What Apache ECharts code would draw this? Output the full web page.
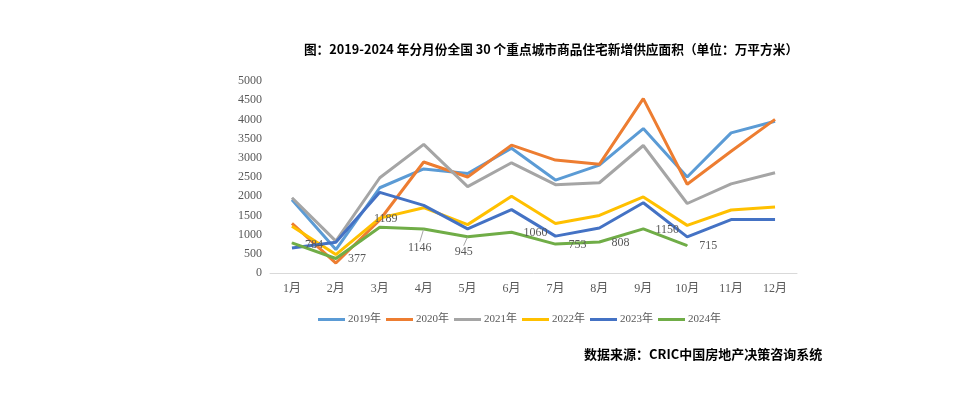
<!DOCTYPE html>
<html><head><meta charset="utf-8">
<script src="https://cdn.jsdelivr.net/npm/echarts@6/dist/echarts.min.js"></script>
<style>html,body{margin:0;padding:0;background:#fff}#c{width:960px;height:403px}</style>
</head><body><div id="c"></div>
<script>
const months = ['1月','2月','3月','4月','5月','6月','7月','8月','9月','10月','11月','12月'];
const yearNames = ['2019年','2020年','2021年','2022年','2023年','2024年'];
const v2019 = [1910, 610, 2220, 2710, 2590, 3250, 2420, 2810, 3760, 2500, 3650, 3950];
const v2020 = [1290, 260, 1380, 2890, 2500, 3330, 2940, 2830, 4540, 2310, 3170, 4000];
const v2021 = [1960, 830, 2480, 3350, 2250, 2870, 2300, 2350, 3320, 1810, 2320, 2610];
const v2022 = [1220, 480, 1430, 1700, 1260, 2000, 1290, 1500, 1980, 1240, 1640, 1720];
const v2023 = [650, 800, 2100, 1760, 1150, 1650, 960, 1170, 1830, 940, 1390, 1390];
const v2024 = [784, 377, 1189, 1146, 945, 1060, 753, 808, 1150, 715];
const yTicks = [0, 500, 1000, 1500, 2000, 2500, 3000, 3500, 4000, 4500, 5000];

const colors = ['#5B9BD5','#ED7D31','#A5A5A5','#FFC000','#4472C4','#70AD47'];
const labelOffsets = [[22,2],[21,0],[6,-8],[-4,19],[-4,15],[24,1],[22,1],[21,1],[24,1],[21,0]];
const serif = "'Liberation Serif', 'Noto Sans CJK SC', serif";

const allVals = [v2019, v2020, v2021, v2022, v2023, v2024];
const series = allVals.map((vals, i) => {
  const s = {
    name: yearNames[i], type: 'line', data: vals,
    symbol: 'circle', symbolSize: 1, showSymbol: i === 5,
    lineStyle: { width: 3, color: colors[i] },
    itemStyle: { color: colors[i] },
    emphasis: { disabled: true },
    z: 2 + i
  };
  if (i === 5) {
    s.label = { show: true, position: 'inside', color: '#595959', fontSize: 12, fontFamily: serif };
    s.labelLayout = p => ({ dx: labelOffsets[p.dataIndex][0], dy: labelOffsets[p.dataIndex][1] });
    s.labelLine = { show: false };
    s.data = vals.map((v, k) => (k === 3 || k === 4) ?
      { value: v, labelLine: { show: true, lineStyle: { color: '#A6A6A6', width: 1 } } } : v);
  }
  return s;
});

const chart = echarts.init(document.getElementById('c'), null, { renderer: 'canvas' });
chart.setOption({
  animation: false,
  backgroundColor: '#fff',
  title: [
    { text: '图：2019-2024 年分月份全国 30 个重点城市商品住宅新增供应面积（单位：万平方米）',
      left: 546, top: 38, textAlign: 'center',
      textStyle: { fontSize: 12.7, fontWeight: 'bold', color: '#000', fontFamily: "'Noto Sans CJK SC', sans-serif" } },
    { text: '数据来源：CRIC中国房地产决策咨询系统', left: 579, top: 343,
      textStyle: { fontSize: 13, fontWeight: 'bold', color: '#000', fontFamily: "'Noto Sans CJK SC', sans-serif" } }
  ],
  legend: {
    data: yearNames, left: 313, top: 309, itemWidth: 27, itemHeight: 3, itemGap: 5,
    icon: 'rect',
    textStyle: { fontSize: 11, color: '#595959', fontFamily: serif, padding: [0, 0, 0, -2] }
  },
  grid: { left: 270, right: 163, top: 81, bottom: 130 },
  xAxis: {
    type: 'category', data: months, boundaryGap: true,
    axisLine: { lineStyle: { color: '#D9D9D9' } }, axisTick: { show: false },
    axisLabel: { color: '#595959', fontSize: 12, fontFamily: serif, margin: 10 }
  },
  yAxis: {
    type: 'value', min: yTicks[0], max: yTicks[yTicks.length - 1], interval: yTicks[1] - yTicks[0],
    axisLine: { show: false }, axisTick: { show: false }, splitLine: { show: false },
    axisLabel: { color: '#595959', fontSize: 12, fontFamily: serif, margin: 8, formatter: v => String(v) }
  },
  series: series
});
</script></body></html>
